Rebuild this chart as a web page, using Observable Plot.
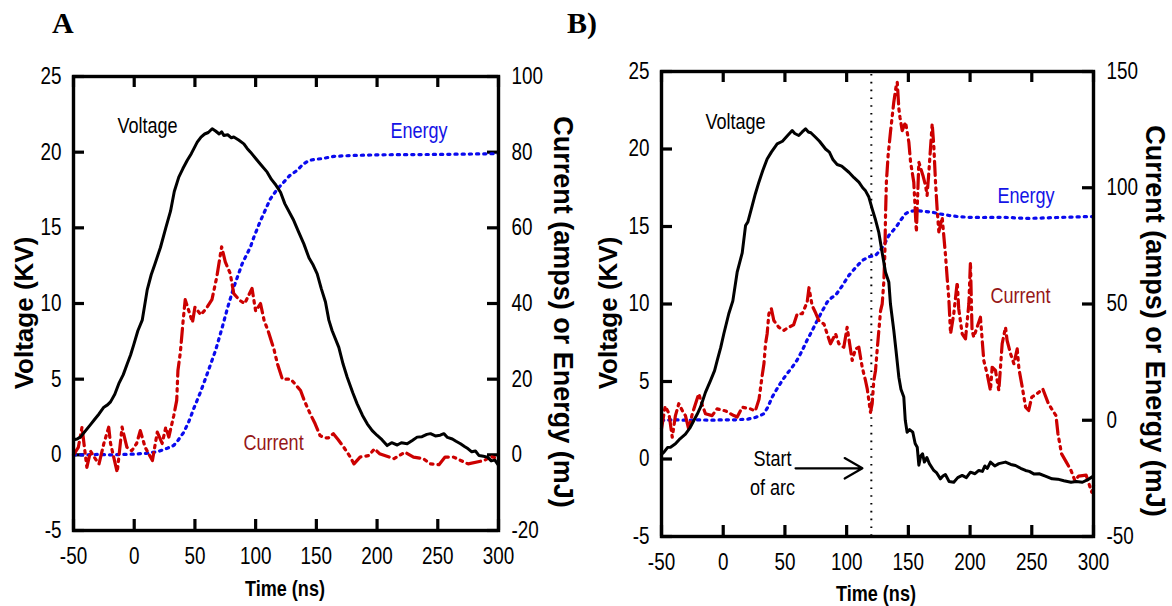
<!DOCTYPE html>
<html><head><meta charset="utf-8">
<script src="https://cdn.jsdelivr.net/npm/d3@7"></script>
<script src="https://cdn.jsdelivr.net/npm/@observablehq/plot@0.6"></script>
<style>
body{margin:0;background:#fff;}
#wrap{position:relative;width:1172px;height:606px;overflow:hidden;background:#fff;}
.panel{position:absolute;top:0;}
#overlay{position:absolute;left:0;top:0;}
</style></head><body><div id="wrap"></div>
<script>
// ---- tick values ----
const timeTicks = [-50, 0, 50, 100, 150, 200, 250, 300];
const voltTicks = [-5, 0, 5, 10, 15, 20, 25];
const rightTicksA = [-20, 0, 20, 40, 60, 80, 100];
const rightTicksB = [-50, 0, 50, 100, 150];
const arcTime = [120];

// ---- Panel A series: [time ns, value] ----
const voltageA = [[-50,1.0],[-47,1.05],[-44,1.2],[-40,1.6],[-36,2.0],[-33,2.3],[-29,2.7],[-25,3.15],[-22,3.3],[-19.5,3.5],[-16,4.0],[-12.7,4.7],[-9,5.3],[-5.8,6.0],[-3,6.6],[-0.3,7.3],[3,8.2],[6.6,8.9],[10.7,10.9],[14,11.9],[17,12.6],[21.6,13.7],[26,15.0],[29.9,16.1],[33,17.4],[36.7,18.35],[40,18.9],[43.6,19.45],[47,19.9],[51.9,20.66],[55,21.0],[58,21.2],[61,21.3],[64.2,21.55],[67,21.4],[70,21.2],[72,21.35],[73.8,21.1],[77,21.15],[80,20.95],[82,21.0],[86,20.8],[90.3,20.55],[93,20.25],[95.8,20.0],[99.9,19.6],[104,19.2],[109.5,18.68],[113,18.2],[116,17.9],[120.5,17.35],[124,16.6],[128,16.0],[131.4,15.48],[135,14.8],[139.7,13.94],[144,13.0],[147,12.6],[150.7,11.96],[154,11.0],[157.5,10.1],[160.3,8.9],[163,8.2],[168.5,7.1],[172,6.0],[175.4,5.13],[180,4.1],[183.6,3.37],[188,2.6],[191.9,2.05],[196,1.6],[200.1,1.28],[204,1.0],[208.3,0.61],[212,0.8],[216.6,0.65],[220,0.8],[224.8,0.73],[229,0.95],[233,1.17],[237,1.2],[241,1.35],[244,1.4],[248,1.25],[252,1.3],[255,1.4],[258,1.15],[262,1.05],[265,0.9],[268.7,0.73],[272,0.55],[275,0.4],[278,0.2],[281,0.25],[284,-0.05],[287.6,-0.1],[291,-0.15],[294,-0.4],[297,-0.35],[300,-0.7]];
const energyA = [[-50,0],[-40,0],[-30,0.1],[-20,0],[-10,0.1],[0,0.2],[10,0.4],[20,0.9],[27,1.7],[32.6,2.5],[36,3.8],[40.9,6],[45,8.8],[49,12.2],[54.6,16.6],[60.1,21.4],[67,27.6],[72.5,33.7],[77,39],[82,44.3],[88.9,50.5],[95.8,55],[98.5,57.5],[104,61.9],[112.2,67.7],[118,70.3],[123.2,72.1],[128,73.8],[134.2,75.2],[139,76.8],[143.8,77.8],[149,78.1],[154.8,78.3],[164.4,78.9],[178,79.1],[200,79.3],[250,79.4],[300,79.6]];
const currentA = [[-50,0],[-46,2],[-43,7.3],[-39,-3.3],[-36,1],[-33,-0.6],[-29,-2.4],[-25,3],[-21,7.3],[-19.5,3],[-14,-4.6],[-10,7.3],[-6,2],[-2,1.1],[2,3],[5,6.4],[9,2],[15,-1.5],[19,6],[23,3],[26,7.3],[28.5,4.7],[32.6,10.4],[35,14.4],[36,22.3],[38,27.1],[40.3,35.5],[42,41],[45,38],[48,35],[50,39],[55,37],[60,39],[64,41],[68,47],[72,55],[75,51],[79,48],[82,42.6],[87,40.8],[91,40],[94,42],[97,44],[100,38],[104,40],[107,35.5],[110,33],[115,28],[118,24],[122,20],[129,20],[137,17],[140,14.4],[145,10.8],[149,8.2],[153,5.1],[157,4.5],[160,4.5],[164,5.6],[168,4],[172.6,2],[178,-0.6],[181,-2.4],[186,-0.6],[193,-0.2],[198,1.6],[202,0.3],[210,-0.6],[214,-1],[223,0.7],[230,-0.6],[238,-1],[244,-2.4],[251,-2.6],[256,-0.6],[263,-0.6],[275,-2.4],[288,-1.5],[294,-0.5],[300,-1]];

// ---- Panel B series ----
const voltageB = [[-50,0.3],[-48,0.44],[-45,0.75],[-42.7,0.76],[-38.7,0.98],[-35,1.3],[-30.6,1.6],[-27,2.0],[-23.8,2.48],[-21,2.9],[-18.4,3.34],[-14.4,4.3],[-10.3,5.06],[-7,5.7],[-4.9,6.35],[-2,7.2],[0.5,8.08],[4.5,9.37],[7.8,10.2],[11.3,12.05],[15.4,13.3],[18.1,15.06],[20,15.3],[23.5,16.35],[26,17.1],[28.9,17.86],[32,18.6],[35.6,19.36],[39,19.8],[43.7,20.33],[48,20.5],[52,20.85],[55.9,21.19],[58,21.0],[61.2,20.87],[64,21.1],[66.7,21.3],[69,21.1],[71,21.05],[74.8,20.76],[78,20.5],[82.9,20.0],[86,19.8],[89,19.3],[92.3,19.0],[96,18.9],[101.8,18.5],[106,18.15],[109.9,17.86],[113,17.5],[115.3,17.3],[118,16.9],[120.7,16.14],[123.5,15.4],[126.1,14.6],[128.8,13.3],[131.5,12.05],[134.2,11.4],[135.5,10.0],[138.2,8.3],[140,7.0],[142.3,5.28],[144,4.5],[146.3,4.0],[147.5,2.5],[149,1.73],[151,1.9],[153.6,1.73],[155.5,1.0],[157.2,0.76],[158.5,-0.4],[160,0.2],[161.5,0.33],[163,-0.2],[165,0.1],[167,-0.3],[170.6,-0.74],[173,-0.9],[176,-1.28],[178,-1.1],[180,-1.0],[183,-1.45],[186.8,-1.5],[190,-1.2],[193.6,-1.06],[197,-1.2],[200.3,-0.85],[204,-0.95],[207.1,-0.74],[210,-0.8],[212,-0.45],[214,-0.6],[216.5,-0.2],[220,-0.45],[223.3,-0.3],[226,-0.25],[228.7,-0.2],[233,-0.35],[236.8,-0.42],[241,-0.6],[244.9,-0.74],[248,-0.8],[251.6,-0.96],[256,-0.95],[261,-1.1],[266.5,-1.28],[271,-1.3],[276,-1.4],[281.8,-1.5],[286,-1.45],[291,-1.5],[295,-1.35],[298.6,-1.17],[300,-1.1]];
const energyB = [[-50,0],[-40,0.2],[-30,0],[-20,0.2],[-10,0],[0,0.2],[10,0.2],[20,0.5],[26,1.2],[30,2],[32.9,2.8],[36,5.5],[39.7,10],[43,13],[47.8,17.1],[51,19.5],[55.9,22.8],[60,26],[64,30],[68,34.5],[72.1,38.6],[77.5,44.3],[84.2,50.8],[88,52.8],[91,53.7],[96,57.5],[101.8,62.3],[107,65.5],[112.6,68.7],[118,70.3],[123.4,70.9],[127,73],[130.1,75.2],[134.2,79.5],[137.5,81.5],[141,83.8],[144,86.2],[147.7,88.8],[151,89.8],[155.8,90.2],[162,89.9],[169.3,89.5],[175,88.8],[182.8,88.1],[190,87.6],[199,87.3],[210,87.2],[226,87.3],[247.6,86.8],[270,87.2],[295.5,87.6],[300,87.6]];
const currentB = [[-50,-3.7],[-47,6],[-44,3],[-41.3,-7.3],[-38.7,2],[-36,7.1],[-33,4],[-30.6,2],[-28,-3.7],[-25,2.8],[-19.8,11.4],[-17,6.7],[-14.4,2.8],[-9,2],[-5,4.9],[2,4],[8.6,2],[11.3,1.4],[15.4,5.6],[22,4.9],[26,4],[29,9],[31.6,19.3],[33,24.3],[34.3,32.9],[35.6,37.2],[37,45.8],[39,48],[41,42.9],[45,40],[49,38.6],[53,40],[57,41],[60,45.8],[64,45.8],[68,50.8],[69.5,57],[72,49.4],[75,46],[77.5,42.9],[81.6,41.4],[84.2,37.2],[86.9,32.9],[91,37.2],[93.7,32.9],[97.7,31.4],[100.4,40],[104.5,25.7],[107.2,30.7],[109.9,31.4],[112.6,22.8],[115.3,17],[116.7,13.5],[118,8.5],[119.3,3.4],[120.7,7.1],[122,17],[123.4,21.4],[124.7,30],[126.1,38.6],[127.5,47.2],[128.8,50],[130.1,59.4],[131,72.3],[131.5,88],[132.2,102.4],[133.6,113.9],[135.5,123.9],[138.2,136.8],[140.2,144],[141,145.4],[142.3,134],[143.2,130.3],[145,124.6],[147.7,128.2],[150.4,119.6],[151.8,111],[154.4,102.4],[155.8,88],[156.5,81],[158.5,111],[161.8,105.3],[163.9,101],[165.2,96.7],[166.6,106.7],[169.3,127.5],[170.6,118.2],[172,102.4],[173.3,91],[174.7,81],[177.4,87.3],[180.1,70.9],[181.5,60.8],[182.8,52.2],[184.2,37.2],[186.8,45.8],[189.6,59.4],[190.8,48],[193.6,37.2],[196.3,35],[199,50],[200.3,68],[201.6,38.6],[203,35.8],[208.4,44.3],[211.1,25.7],[213.8,20],[216.5,12.8],[217.9,22.8],[220.6,21.4],[223.3,12.8],[226,32.9],[228.7,40],[230,34.3],[232.8,28.6],[235.5,24.3],[238.2,30.7],[239.6,22.1],[242.3,14.2],[245,5.6],[247.5,4.2],[250,10],[254.3,11.4],[258.9,13.5],[263.5,7.1],[269.6,2],[271.2,-5.8],[274.1,-14.4],[278,-18],[281.8,-21.6],[284.9,-25.9],[288,-24],[294,-23.6],[298.6,-31],[300,-28]];

// ---- in-plot labels: [text, time, voltage-scale y, colour] ----
const labelsA = [["Voltage", -13.8, 21.7, "#000"], ["Energy", 211, 21.37, "#1414e6"], ["Current", 90, 0.81, "#961818"]];
const labelsB = [["Voltage", -14.4, 21.77, "#000"], ["Energy", 222.2, 16.94, "#1414e6"], ["Current", 216.5, 10.55, "#961818"]];
const arcText = [["Start", 40, 0.0], ["of arc", 40, -1.9]];
const arcArrow = [[58.6, -0.6, 112.8, -0.6]];

const SANS = '"Liberation Sans", Arial, sans-serif';
const RED = "#cc0000", BLUE = "#0a0aee";
const SQUEEZE = 0.82;

function panel(cfg) {
  const W = 586, H = 606;
  const innerW = W - cfg.ml - cfg.mr, innerH = H - cfg.mt - cfg.mb;
  const toV = cfg.toV, fromV = cfg.fromV;
  const rTicks = cfg.rightTicks.map(toV);
  const marks = [
    Plot.axisX(timeTicks, {anchor: "bottom", tickSize: 0, tickPadding: 17, label: null, fontSize: 23, tickFormat: d => String(d)}),
    Plot.axisY(voltTicks, {anchor: "left", tickSize: 0, tickPadding: 12, label: null, fontSize: 23, tickFormat: d => String(d)}),
    Plot.axisY(rTicks, {anchor: "right", tickSize: 0, tickPadding: 13, label: null, fontSize: 23, tickFormat: v => String(Math.round(fromV(v)))}),
    Plot.tickX(timeTicks, {x: d => d, insetBottom: innerH - 11, strokeWidth: 3.2}),
    Plot.tickX(timeTicks, {x: d => d, insetTop: innerH - 11, strokeWidth: 3.2}),
    Plot.tickY(voltTicks, {y: d => d, insetRight: innerW - 11, strokeWidth: 3.2}),
    Plot.tickY(rTicks, {y: d => d, insetLeft: innerW - 11, strokeWidth: 3.2}),
  ];
  if (cfg.arc) {
    marks.push(Plot.ruleX(arcTime, {x: d => d, stroke: "#000", strokeWidth: 2, strokeDasharray: "1.6,6.2", insetTop: 3}));
    marks.push(Plot.text(arcText, {x: d => d[1], y: d => d[2], text: d => d[0], textAnchor: "middle", fontSize: 22, fill: "#000"}));
    marks.push(Plot.arrow(arcArrow, {x1: d => d[0], y1: d => d[1], x2: d => d[2], y2: d => d[3], stroke: "#000", strokeWidth: 2.2, headLength: 14}));
  }
  marks.push(
    Plot.line(cfg.energy, {x: d => d[0], y: d => toV(d[1]), stroke: BLUE, strokeWidth: 3.2, strokeDasharray: "2.2,5"}),
    Plot.line(cfg.current, {x: d => d[0], y: d => toV(d[1]), stroke: RED, strokeWidth: 3.2, strokeDasharray: "14,5,2.5,5,2.5,5"}),
    Plot.line(cfg.voltage, {x: d => d[0], y: d => d[1], stroke: "#000", strokeWidth: 3, strokeLinejoin: "round"}),
    Plot.text(cfg.labels, {x: d => d[1], y: d => d[2], text: d => d[0], fill: d => d[3], textAnchor: "start", fontSize: 22}),
    Plot.frame({stroke: "#000", strokeWidth: 3.4})
  );
  return Plot.plot({
    width: W, height: H,
    marginLeft: cfg.ml, marginRight: cfg.mr, marginTop: cfg.mt, marginBottom: cfg.mb,
    style: {fontFamily: SANS, fontSize: "22px", color: "#000", background: "transparent", overflow: "visible"},
    x: {domain: [-50, 300]},
    y: {domain: [-5, 25]},
    marks
  });
}

function condense(root, k) {
  root.querySelectorAll("text").forEach(el => {
    const w = el.getComputedTextLength();
    if (w > 0) {
      el.setAttribute("textLength", (w * k).toFixed(2));
      el.setAttribute("lengthAdjust", "spacingAndGlyphs");
    }
  });
}

const wrap = document.getElementById("wrap");
const pA = panel({ml: 73, mr: 88, mt: 76, mb: 76, toV: c => c / 4, fromV: v => v * 4, rightTicks: rightTicksA,
  voltage: voltageA, energy: energyA, current: currentA, labels: labelsA, arc: false});
pA.classList.add("panel"); pA.style.left = "0px";
wrap.appendChild(pA);
const pB = panel({ml: 75, mr: 79, mt: 71, mb: 70, toV: c => 0.15 * c + 2.5, fromV: v => (v - 2.5) / 0.15, rightTicks: rightTicksB,
  voltage: voltageB, energy: energyB, current: currentB, labels: labelsB, arc: true});
pB.classList.add("panel"); pB.style.left = "586px";
wrap.appendChild(pB);
condense(pA, SQUEEZE);
condense(pB, SQUEEZE);

// ---- titles (overlay) ----
const svg = d3.select(wrap).append("svg").attr("id", "overlay").attr("width", 1172).attr("height", 606);
const narrowG = svg.append("g");
function t(parent, txt, x, y, opts) {
  const e = parent.append("text").text(txt)
    .attr("font-family", opts.family).attr("font-size", opts.size).attr("font-weight", "bold")
    .attr("text-anchor", opts.anchor || "middle").attr("fill", "#000");
  if (opts.rotate) e.attr("dominant-baseline", "central").attr("transform", `translate(${x},${y}) rotate(${opts.rotate})`);
  else e.attr("x", x).attr("y", y);
}
const SERIF = '"Liberation Serif", "Times New Roman", serif';
t(svg, "A", 52, 33, {family: SERIF, size: 30, anchor: "start"});
t(svg, "B)", 567, 33, {family: SERIF, size: 30, anchor: "start"});
t(svg, "Voltage (KV)", 24, 313, {family: SANS, size: 26, rotate: -90});
t(svg, "Voltage (KV)", 608, 313, {family: SANS, size: 26, rotate: -90});
t(svg, "Current (amps) or Energy (mJ)", 563, 312, {family: SANS, size: 27, rotate: 90});
t(svg, "Current (amps) or Energy (mJ)", 1155, 321, {family: SANS, size: 27, rotate: 90});
t(narrowG, "Time (ns)", 285, 596, {family: SANS, size: 22});
t(narrowG, "Time (ns)", 876, 601, {family: SANS, size: 22});
condense(narrowG.node(), SQUEEZE);
</script>
</body></html>
